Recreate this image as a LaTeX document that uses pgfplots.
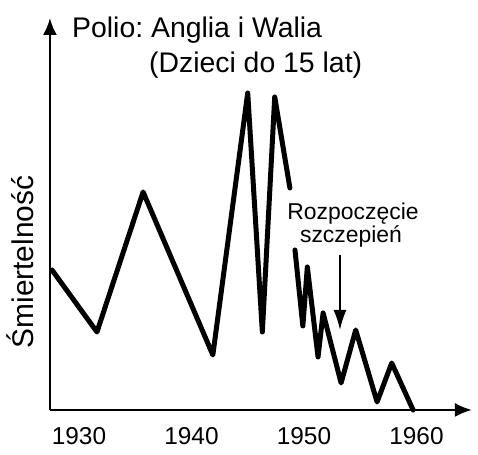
\documentclass[border=0pt]{standalone}
\usepackage{fontspec}
\setmainfont{Liberation Sans}
\usepackage{pgfplots}
\pgfplotsset{compat=1.18}
\usetikzlibrary{arrows.meta}
\frenchspacing
\begin{document}
\begin{tikzpicture}
\begin{axis}[
  scale only axis,
  width=422bp, height=392bp,
  xmin=1927.42, xmax=1964.93,
  ymin=0, ymax=392,
  axis lines=left,
  axis line style={line width=2.2bp, -{Latex[length=17bp,width=14bp]}},
  xtick={1930,1940,1950,1960},
  ytick=\empty,
  major tick length=0pt,
  /pgf/number format/assume math mode=true,
  /pgf/number format/1000 sep={},
  xticklabel style={font=\fontsize{24.5}{26}\selectfont, inner sep=0pt, anchor=north, yshift=-17bp},
  clip=false,
]
\path (axis cs:1922.98,-45) rectangle (axis cs:1965.47,410);
\addplot[black, line width=5bp, line join=round, line cap=round] coordinates {
  (1927.6,140) (1931.6,78) (1935.7,218) (1941.9,55) (1945.0,317)
  (1946.3,78) (1947.4,313) (1948.75,222)
};
\addplot[black, line width=5bp, line join=round, line cap=round] coordinates {
  (1949.2,160) (1949.9,84) (1950.3,143) (1951.25,53) (1951.7,97)
  (1953.3,27) (1954.6,80) (1956.5,8) (1957.8,47) (1959.7,0)
};
\node[anchor=base west, inner sep=0pt, font=\fontsize{28.5}{30}\selectfont] at (axis cs:1929.38,372) {Polio: Anglia i Walia};
\node[anchor=base west, inner sep=0pt, font=\fontsize{28.5}{30}\selectfont] at (axis cs:1936.22,337) {(Dzieci do 15 lat)};
\node[anchor=base, inner sep=0pt, font=\fontsize{23}{25}\selectfont] at (axis cs:1954.36,190) {Rozpoczęcie};
\node[anchor=base, inner sep=0pt, font=\fontsize{23}{25}\selectfont] at (axis cs:1954.18,167) {szczepień};
\draw[line width=1.8bp, -{Latex[length=20bp,width=13bp]}] (axis cs:1953.2,155) -- (axis cs:1953.2,80);
\node[rotate=90, inner sep=0pt, font=\fontsize{30}{32}\selectfont] at (axis cs:1924.76,148) {Śmiertelność};
\end{axis}
\end{tikzpicture}
\end{document}
